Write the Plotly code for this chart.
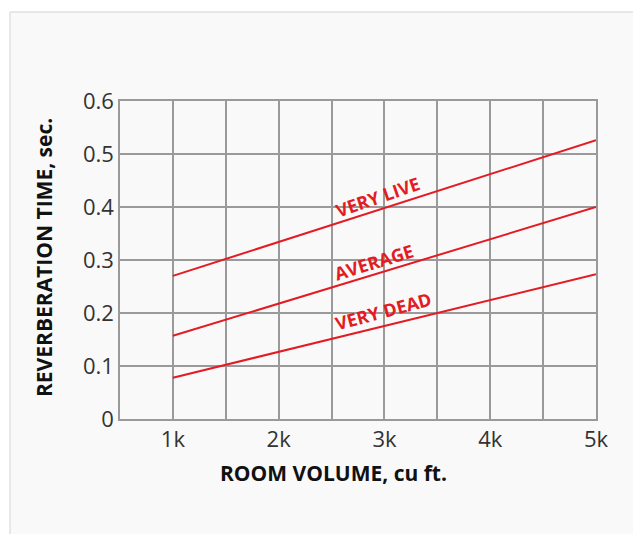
import plotly.graph_objects as go

# Data
volume = [1000, 5000]
very_live = [0.270, 0.526]
average = [0.157, 0.400]
very_dead = [0.078, 0.273]

x_tickvals = [1000, 2000, 3000, 4000, 5000]
x_ticktext = ["1k", "2k", "3k", "4k", "5k"]
y_tickvals = [0, 0.1, 0.2, 0.3, 0.4, 0.5, 0.6]

labels = ["VERY LIVE", "AVERAGE", "VERY DEAD"]
label_x = [2930, 2900, 2990]
label_y = [0.419, 0.297, 0.203]
label_angle = [-19, -17, -15]

x_title = "ROOM VOLUME, cu ft."
y_title = "REVERBERATION TIME, sec."

RED = "#e31b23"
GRID = "#9a9a9a"
FONT = "Open Sans, Noto Sans, sans-serif"

fig = go.Figure()
for name, ys in zip(labels, [very_live, average, very_dead]):
    fig.add_trace(go.Scatter(x=volume, y=ys, mode="lines", name=name,
                             line=dict(color=RED, width=2), showlegend=False))

for t, xx, yy, a in zip(labels, label_x, label_y, label_angle):
    fig.add_annotation(x=xx, y=yy, text="<b>" + t + "</b>", showarrow=False,
                       textangle=a, font=dict(family=FONT, size=18, color=RED))

# page has an 8px body margin; figure coordinates are page - 8
W, H = 633, 526
L, T = 112, 93
pw, ph = 476, 318
R = W - L - pw
B = H - T - ph

def px(x):
    return (x - 8 - L) / pw

def py(y):
    return (T + ph - (y - 8)) / ph

# background card (fill), plus its left and top edges
fig.add_shape(type="rect", xref="paper", yref="paper",
              x0=px(10), x1=px(700), y0=py(600), y1=py(12),
              fillcolor="#f9f9f9", line=dict(width=0), layer="below")
fig.add_shape(type="line", xref="paper", yref="paper",
              x0=px(10), x1=px(10), y0=py(600), y1=py(12),
              line=dict(color="#e0e0e0", width=1.5), layer="below")
fig.add_shape(type="line", xref="paper", yref="paper",
              x0=px(10), x1=px(700), y0=py(12), y1=py(12),
              line=dict(color="#e0e0e0", width=1.5), layer="below")

fig.add_annotation(xref="paper", yref="paper", x=px(333), y=py(473),
                   text="<b>" + x_title + "</b>", showarrow=False,
                   xanchor="center", yanchor="middle",
                   font=dict(family=FONT, size=21, color="#111111"))
fig.add_annotation(xref="paper", yref="paper", x=px(44), y=py(258),
                   text="<b>" + y_title + "</b>", showarrow=False, textangle=-90,
                   xanchor="center", yanchor="middle",
                   font=dict(family=FONT, size=21, color="#111111"))

fig.update_layout(
    width=W, height=H,
    margin=dict(l=L, r=R, t=T, b=B),
    paper_bgcolor="white",
    plot_bgcolor="white",
    font=dict(family=FONT, color="#333333"),
    xaxis=dict(range=[500, 5000], tickvals=x_tickvals, ticktext=x_ticktext,
               showgrid=True, gridcolor=GRID, gridwidth=1.5,
               minor=dict(tick0=500, dtick=500, showgrid=True, gridcolor=GRID, gridwidth=1.5),
               showline=True, mirror=True, linecolor=GRID, linewidth=1.5,
               zeroline=False, ticks="", tickfont=dict(size=22, color="#333333")),
    yaxis=dict(range=[0, 0.6], tickvals=y_tickvals,
               showgrid=True, gridcolor=GRID, gridwidth=1.5,
               showline=True, mirror=True, linecolor=GRID, linewidth=1.5,
               zeroline=False, ticks="", tickfont=dict(size=22, color="#333333")),
)

fig.write_html("out.html")
